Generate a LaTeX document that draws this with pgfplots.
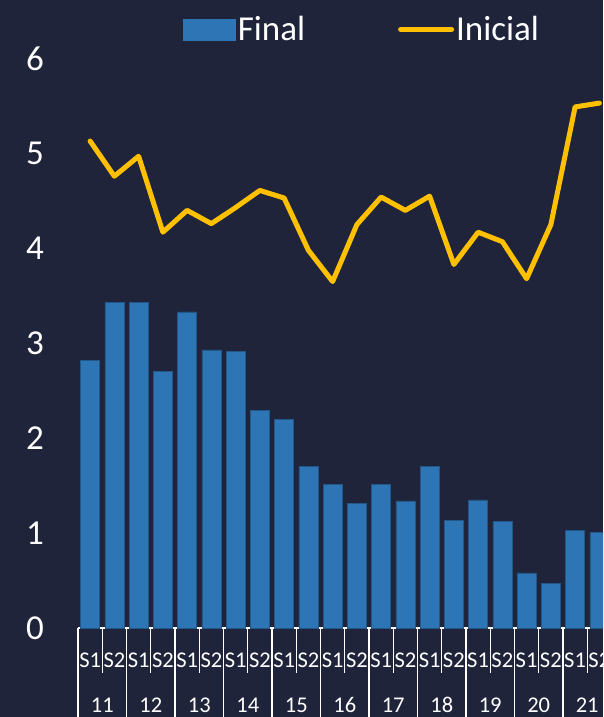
\documentclass[border=0pt]{standalone}
\usepackage{fontspec}
\setmainfont{Carlito}
\usepackage{pgfplots}
\pgfplotsset{compat=1.18}
\definecolor{bg}{HTML}{1F243B}
\definecolor{barblue}{HTML}{2E75B6}
\definecolor{gold}{HTML}{FFC000}

\begin{document}
\begin{tikzpicture}
\fill[bg] (-78pt,-89pt) rectangle (525pt,628pt);
\begin{axis}[
    at={(0,0)}, anchor=south west,
    scale only axis, width=525pt, height=569.5pt,
    xmin=-0.5, xmax=21.15, ymin=0, ymax=6,
    clip mode=individual,
    axis lines*=left,
    y axis line style={draw=none},
    x axis line style={white, line width=1.5pt},
    major tick length=0pt,
    tick style={draw=none},
    ytick={0,...,6},
    xtick={0,...,21},
    xticklabels={S1,S2,S1,S2,S1,S2,S1,S2,S1,S2,S1,S2,S1,S2,S1,S2,S1,S2,S1,S2,S1,S2},
    /pgf/number format/assume math mode=true,
    yticklabel style={font=\fontsize{35}{35}\selectfont, text=white, inner sep=0pt, anchor=east, xshift=-34pt},
    xticklabel style={font=\fontsize{22.5}{22.5}\selectfont, text=white, inner sep=0pt, anchor=center, yshift=-32pt},
    legend columns=2,
    legend style={at={(0.2,1.051)}, anchor=west, draw=none, fill=none, inner sep=0pt,
      text=white, font=\fontsize{35}{35}\selectfont,
      /tikz/every even column/.append style={column sep=91pt}},
  ]
  \addplot[ybar, bar width=19pt, fill=barblue, draw=barblue!75!black, line width=0.6pt,
    legend image code/.code={\fill[barblue] (-3pt,-10.5pt) rectangle (49pt,10.5pt);}]
    coordinates {
      (0,2.82) (1,3.43) (2,3.43) (3,2.70) (4,3.33) (5,2.93) (6,2.91) (7,2.29)
      (8,2.20) (9,1.70) (10,1.51) (11,1.31) (12,1.51) (13,1.34) (14,1.70)
      (15,1.13) (16,1.35) (17,1.12) (18,0.58) (19,0.47) (20,1.03) (21,1.01)
    };
  \addlegendentry{Final}
  \addplot[sharp plot, gold, line width=5pt, line join=round, line cap=round, mark=none,
    legend image code/.code={\draw[gold, line width=5pt, line cap=round] (-0.5pt,0pt) -- (50.5pt,0pt);}]
    coordinates {
      (0,5.13) (1,4.76) (2,4.97) (3,4.17) (4,4.40) (5,4.26) (6,4.43) (7,4.61)
      (8,4.53) (9,3.98) (10,3.65) (11,4.25) (12,4.54) (13,4.40) (14,4.55)
      (15,3.83) (16,4.17) (17,4.07) (18,3.68) (19,4.25) (20,5.49) (21,5.53)
    };
  \addlegendentry{Inicial}
  % category separators
  \pgfplotsinvokeforeach{0,...,11}{
    \draw[white, line width=1.3pt] (axis cs:{2*#1-0.5},0) -- ++(0pt,-95pt);
  }
  \pgfplotsinvokeforeach{0,...,10}{
    \draw[white, line width=1.3pt] (axis cs:{2*#1+0.5},0) -- ++(0pt,-45pt);
  }
  \pgfplotsinvokeforeach{11,...,21}{
    \node[text=white, font=\fontsize{22.5}{22.5}\selectfont, inner sep=0pt]
      at (axis cs:{2*(#1-11)+0.5},0) [yshift=-77pt] {#1};
  }
\end{axis}
\pgfresetboundingbox
\useasboundingbox (-78pt,-89pt) rectangle (525pt,628pt);
\end{tikzpicture}
\end{document}
